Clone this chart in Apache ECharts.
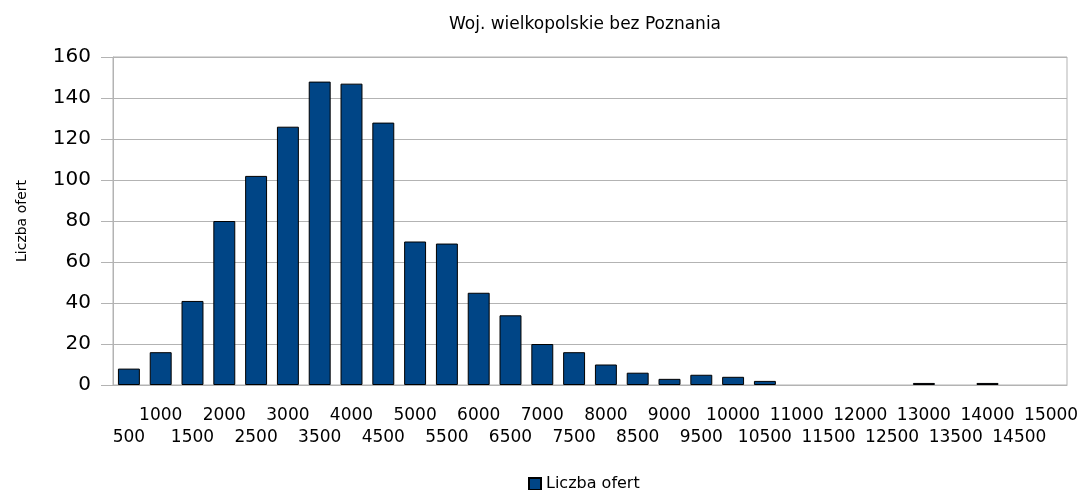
<!DOCTYPE html>
<html>
<head>
<meta charset="utf-8">
<script src="https://cdn.jsdelivr.net/npm/echarts@6/dist/echarts.min.js"></script>
<style>
  html, body { margin: 0; padding: 0; background: #fff; }
  #chart { width: 1082px; height: 490px; }
</style>
</head>
<body>
<div id="chart"></div>
<script>
// przedziały cen (kategorie osi X)
const categories = ['500','1000','1500','2000','2500','3000','3500','4000','4500','5000',
  '5500','6000','6500','7000','7500','8000','8500','9000','9500','10000',
  '10500','11000','11500','12000','12500','13000','13500','14000','14500','15000'];
// liczba ofert w każdym przedziale
const offers = [8, 16, 41, 80, 102, 126, 148, 147, 128, 70,
  69, 45, 34, 20, 16, 10, 6, 3, 5, 4,
  2, 0, 0, 0, 0, 1, 0, 1, 0, 0];
const seriesName = 'Liczba ofert';
const chartTitle = 'Woj. wielkopolskie bez Poznania';

const font = 'DejaVu Sans';
const gridColor = '#b3b3b3';

const myChart = echarts.init(document.getElementById('chart'));
myChart.setOption({
  animation: false,
  textStyle: { fontFamily: font, color: '#000' },
  title: {
    text: chartTitle,
    left: 580,
    top: 11,
    textAlign: 'center',
    textStyle: { fontFamily: font, fontSize: 17, fontWeight: 'normal', color: '#000' }
  },
  legend: {
    data: [seriesName],
    left: 523,
    top: 471,
    icon: 'rect',
    itemWidth: 12,
    itemHeight: 12,
    itemGap: 8,
    textStyle: { fontFamily: font, fontSize: 16, color: '#000' }
  },
  grid: {
    left: 113,
    right: 15,
    top: 57,
    bottom: 105,
    show: true,
    borderColor: gridColor,
    borderWidth: 1
  },
  xAxis: {
    type: 'category',
    data: categories,
    axisLine: { lineStyle: { color: gridColor } },
    axisTick: { alignWithLabel: true, length: 9, lineStyle: { color: gridColor } },
    axisLabel: {
      interval: 0,
      margin: 20,
      fontSize: 17,
      lineHeight: 22,
      color: '#000',
      fontFamily: font,
      // co druga etykieta w dolnym wierszu
      formatter: function (value, index) {
        return index % 2 === 0 ? '\n' + value : value;
      }
    }
  },
  yAxis: {
    type: 'value',
    min: 0,
    max: 160,
    interval: 20,
    name: seriesName,
    nameLocation: 'middle',
    nameRotate: 90,
    nameGap: 84,
    nameTextStyle: { fontFamily: font, fontSize: 14, color: '#000' },
    axisLine: { show: true, lineStyle: { color: gridColor } },
    axisTick: { show: true, length: 12, lineStyle: { color: gridColor } },
    axisLabel: { fontSize: 20, color: '#000', fontFamily: font, margin: 22 },
    splitLine: { lineStyle: { color: gridColor } }
  },
  series: [{
    name: seriesName,
    type: 'bar',
    // puste przedziały nie są rysowane
    data: offers.map(v => (v === 0 ? '-' : v)),
    barCategoryGap: '31%',
    itemStyle: { color: '#004586', borderColor: '#000', borderWidth: 1 }
  }]
});
</script>
</body>
</html>
